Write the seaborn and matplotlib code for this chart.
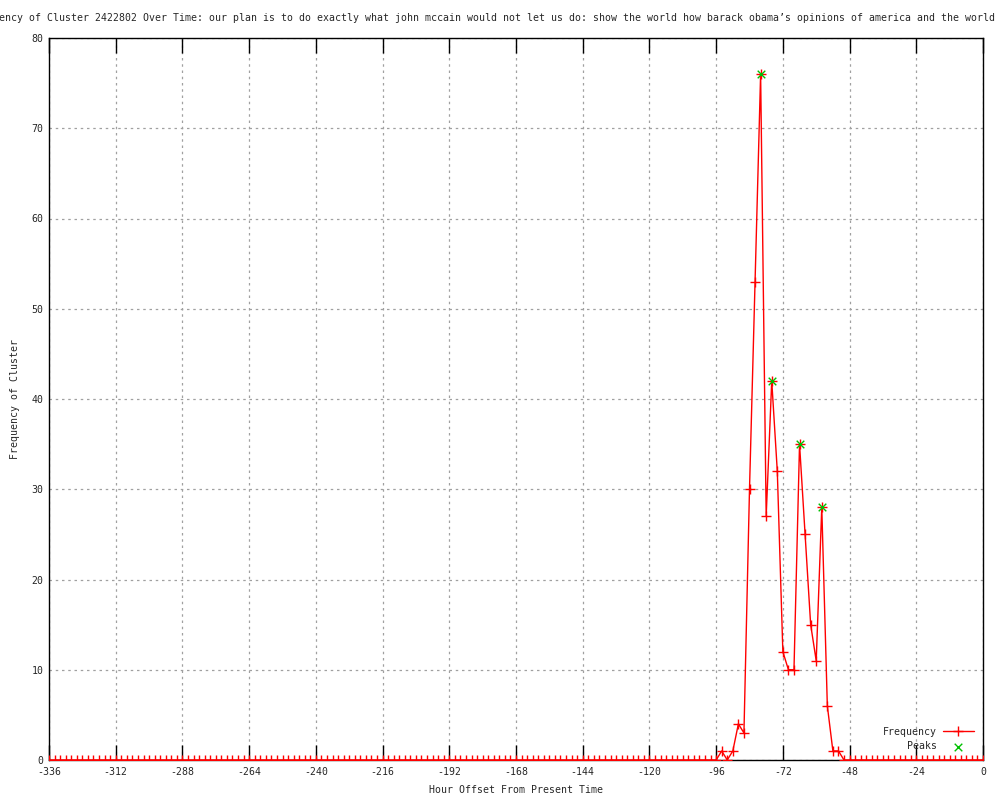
import numpy as np
import pandas as pd
import matplotlib
matplotlib.use("Agg")
import matplotlib.pyplot as plt
import seaborn as sns

# ---- data ----
hours = list(range(-336, 1, 2))
frequency = (
    [0, 0, 0, 0, 0, 0, 0, 0, 0, 0, 0, 0,   # -336 .. -314
     0, 0, 0, 0, 0, 0, 0, 0, 0, 0, 0, 0,   # -312 .. -290
     0, 0, 0, 0, 0, 0, 0, 0, 0, 0, 0, 0,   # -288 .. -266
     0, 0, 0, 0, 0, 0, 0, 0, 0, 0, 0, 0,   # -264 .. -242
     0, 0, 0, 0, 0, 0, 0, 0, 0, 0, 0, 0,   # -240 .. -218
     0, 0, 0, 0, 0, 0, 0, 0, 0, 0, 0, 0,   # -216 .. -194
     0, 0, 0, 0, 0, 0, 0, 0, 0, 0, 0, 0,   # -192 .. -170
     0, 0, 0, 0, 0, 0, 0, 0, 0, 0, 0, 0,   # -168 .. -146
     0, 0, 0, 0, 0, 0, 0, 0, 0, 0, 0, 0,   # -144 .. -122
     0, 0, 0, 0, 0, 0, 0, 0, 0, 0, 0, 0,   # -120 .. -98
     0,                                     # -96
     1, 0, 1, 4, 3, 30, 53, 76, 27, 42, 32, # -94 .. -74
     12, 10, 10, 35, 25, 15, 11, 28, 6, 1, 1,  # -72 .. -52
     0, 0, 0, 0, 0, 0, 0, 0, 0, 0, 0, 0, 0,   # -50 .. -26
     0, 0, 0, 0, 0, 0, 0, 0, 0, 0, 0, 0, 0]   # -24 .. 0
)
peak_hours = [-80, -76, -66, -58]
peak_values = [76, 42, 35, 28]

x_ticks = list(range(-336, 1, 24))
y_ticks = list(range(0, 81, 10))

title = ("Frequency of Cluster 2422802 Over Time: our plan is to do exactly what "
         "john mccain would not let us do: show the world how barack obama\u2019s "
         "opinions of america and the world understand")

df = pd.DataFrame({"hour": hours, "freq": frequency})
peaks = pd.DataFrame({"hour": peak_hours, "freq": peak_values})

# ---- style ----
sns.set_style("white")
plt.rcParams["font.family"] = ["DejaVu Sans Mono"]
plt.rcParams["axes.unicode_minus"] = False
FS = 7.1

fig = plt.figure(figsize=(10, 8), dpi=100)
ax = fig.add_axes([0.049, 0.05, 0.934, 0.9025])

sns.lineplot(data=df, x="hour", y="freq", ax=ax, color="#ff0000", linewidth=1.0,
             marker="+", markersize=7, markeredgewidth=1.0, markeredgecolor="#ff0000",
             label="Frequency", zorder=3)
sns.scatterplot(data=peaks, x="hour", y="freq", ax=ax, marker="x", color="#00c000",
                s=30, linewidth=1.0, label="    Peaks", zorder=4)

ax.set_xlim(-336, 0)
ax.set_ylim(0, 80)
ax.set_xticks(x_ticks)
ax.set_yticks(y_ticks)
ax.set_xticklabels([str(v) for v in x_ticks], fontsize=FS)
ax.set_yticklabels([str(v) for v in y_ticks], fontsize=FS)
ax.tick_params(axis="x", direction="in", length=11, width=1, color="black",
               top=True, bottom=True, pad=5)
ax.tick_params(axis="y", length=0, pad=4)

ax.grid(True, color="#a0a0a0", linestyle=(0, (2, 3)), linewidth=0.9)
ax.set_axisbelow(True)
for s in ax.spines.values():
    s.set_color("black")
    s.set_linewidth(1.0)
    s.set_visible(True)

ax.set_xlabel("Hour Offset From Present Time", fontsize=FS, labelpad=6)
ax.set_ylabel("Frequency of Cluster", fontsize=FS, labelpad=8)

leg = ax.legend(loc="lower right", frameon=False, markerfirst=False, fontsize=FS,
                handlelength=3.2, handletextpad=0.6, labelspacing=0.45,
                borderaxespad=0.5)

fig.text(-0.031, 1 - 18 / 800, title, ha="left", va="center", fontsize=FS)

fig.savefig("out.png", dpi=100)
